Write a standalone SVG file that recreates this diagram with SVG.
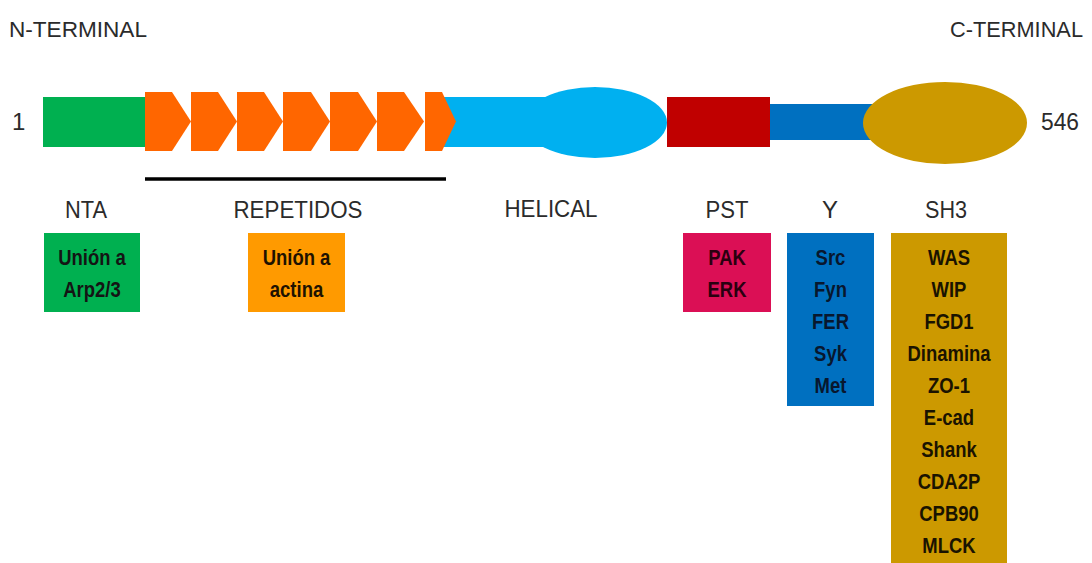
<svg xmlns="http://www.w3.org/2000/svg" width="1092" height="563" viewBox="0 0 1092 563">
<style>
.hd{font-family:"Liberation Sans",Arial,sans-serif;font-size:24px;fill:#2b2b2b}
.tl{font-size:22.5px}
.bx{font-family:"Liberation Sans",Arial,sans-serif;font-weight:bold;font-size:22px;text-anchor:middle}
.mid{text-anchor:middle}
.chev{fill:#FF6600}
</style>
<rect width="1092" height="563" fill="#ffffff"/>
<g id="labels-top">
<text class="hd tl" x="9" y="37" textLength="138" lengthAdjust="spacingAndGlyphs">N-TERMINAL</text>
<text class="hd tl" x="950" y="37" textLength="133" lengthAdjust="spacingAndGlyphs">C-TERMINAL</text>
<text class="hd" x="12" y="130">1</text>
<text class="hd" x="1041" y="130" textLength="38" lengthAdjust="spacingAndGlyphs">546</text>
</g>
<g id="helical-domain">
<rect x="440" y="97" width="160" height="50" fill="#00B0F0"/>
<ellipse cx="595" cy="122.5" rx="72" ry="35.5" fill="#00B0F0"/>
</g>
<g id="nta-domain"><rect x="43" y="97" width="104" height="50" fill="#00B050"/></g>
<g id="repeat-domain">
<polygon class="chev" points="145,92 172,92 191,121.5 172,151 145,151"/>
<polygon class="chev" points="191,92 218,92 237,121.5 218,151 191,151"/>
<polygon class="chev" points="237,92 264,92 283,121.5 264,151 237,151"/>
<polygon class="chev" points="283,92 311,92 330,121.5 311,151 283,151"/>
<polygon class="chev" points="330,92 358,92 377,121.5 358,151 330,151"/>
<polygon class="chev" points="377,92 404,92 424,121.5 404,151 377,151"/>
<polygon class="chev" points="425,92 442,92 456,121.5 442,151 425,151"/>
</g>
<g id="pst-domain"><rect x="667" y="97" width="103" height="50" fill="#C00000"/></g>
<g id="y-domain"><rect x="770" y="104" width="110" height="36" fill="#0070C0"/></g>
<g id="sh3-domain"><ellipse cx="945" cy="123" rx="82" ry="41" fill="#CC9900"/></g>
<g id="connectors">
<line x1="145" y1="179" x2="446" y2="179" stroke="#000" stroke-width="3.5"/>
</g>
<g id="nta">
<text class="hd mid" x="86" y="218" textLength="42" lengthAdjust="spacingAndGlyphs">NTA</text>
<rect x="44" y="233" width="96" height="79" fill="#00B050"/>
<g transform="translate(92 0) scale(0.84 1)" fill="#141414">
<text class="bx" x="0" y="265">Unión a</text>
<text class="bx" x="0" y="297">Arp2/3</text>
</g>
</g>
<g id="repetidos">
<text class="hd mid" x="298" y="218" textLength="129" lengthAdjust="spacingAndGlyphs">REPETIDOS</text>
<rect x="248" y="233" width="97" height="79" fill="#FF9A00"/>
<g transform="translate(296.5 0) scale(0.84 1)" fill="#1e1200">
<text class="bx" x="0" y="265">Unión a</text>
<text class="bx" x="0" y="297">actina</text>
</g>
</g>
<g id="helical">
<text class="hd mid" x="551" y="217" textLength="93" lengthAdjust="spacingAndGlyphs">HELICAL</text>
</g>
<g id="pst">
<text class="hd mid" x="727" y="218" textLength="43" lengthAdjust="spacingAndGlyphs">PST</text>
<rect x="683" y="233" width="88" height="79" fill="#DB0F55"/>
<g transform="translate(727 0) scale(0.84 1)" fill="#2a0010">
<text class="bx" x="0" y="265">PAK</text>
<text class="bx" x="0" y="297">ERK</text>
</g>
</g>
<g id="y">
<text class="hd mid" x="830" y="218">Y</text>
<rect x="787" y="233" width="87" height="173" fill="#0070C0"/>
<g transform="translate(830.5 0) scale(0.84 1)" fill="#08172e">
<text class="bx" x="0" y="265">Src</text>
<text class="bx" x="0" y="297">Fyn</text>
<text class="bx" x="0" y="329">FER</text>
<text class="bx" x="0" y="361">Syk</text>
<text class="bx" x="0" y="393">Met</text>
</g>
</g>
<g id="sh3">
<text class="hd mid" x="946" y="218" textLength="42" lengthAdjust="spacingAndGlyphs">SH3</text>
<rect x="891" y="233" width="116" height="340" fill="#CC9900"/>
<g transform="translate(949 0) scale(0.84 1)" fill="#1a1300">
<text class="bx" x="0" y="265">WAS</text>
<text class="bx" x="0" y="297">WIP</text>
<text class="bx" x="0" y="329">FGD1</text>
<text class="bx" x="0" y="361">Dinamina</text>
<text class="bx" x="0" y="393">ZO-1</text>
<text class="bx" x="0" y="425">E-cad</text>
<text class="bx" x="0" y="457">Shank</text>
<text class="bx" x="0" y="489">CDA2P</text>
<text class="bx" x="0" y="521">CPB90</text>
<text class="bx" x="0" y="553">MLCK</text>
</g>
</g>
</svg>
